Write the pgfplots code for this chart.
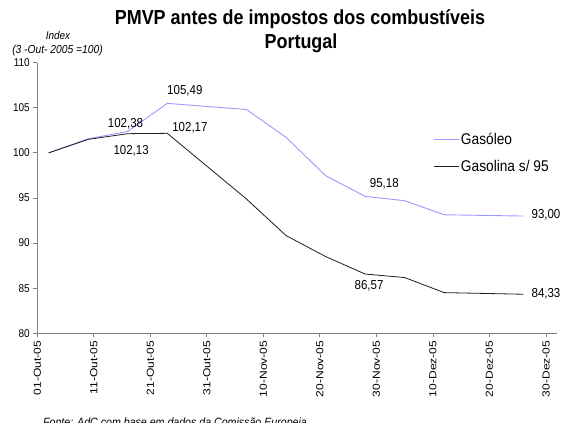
\documentclass[border=0pt]{standalone}
\usepackage{pgfplots}
\pgfplotsset{compat=1.18}
\usepackage{fontspec}
\setmainfont{Liberation Sans}[FakeStretch=0.885]
\newfontfamily\xlfont{Liberation Sans}[FakeStretch=1.18]
\definecolor{axgray}{RGB}{128,128,128}
\definecolor{gasoleo}{RGB}{153,153,255}
\definecolor{gasolina}{RGB}{30,30,30}
\begin{document}
\begin{tikzpicture}
\path[use as bounding box] (0,0) rectangle (563bp,423bp);
\clip (0,0) rectangle (563bp,423bp);
\begin{axis}[
  at={(37.3bp,89.7bp)}, anchor=south west,
  scale only axis, width=520bp, height=270.6bp,
  xmin=0, xmax=92, ymin=80, ymax=110,
  axis x line=bottom, axis y line=left,
  axis line style={-, draw=axgray, line width=1.4bp},
  tick style={draw=axgray, line width=0.9bp},
  major tick length=4bp, tick align=outside,
  xtick={0,10,20,30,40,50,60,70,80,90},
  xticklabels={01-Out-05,11-Out-05,21-Out-05,31-Out-05,10-Nov-05,20-Nov-05,30-Nov-05,10-Dez-05,20-Dez-05,30-Dez-05},
  xticklabel style={rotate=90, anchor=east, font=\xlfont\fontsize{10.2bp}{11bp}\selectfont},
  ytick={80,85,90,95,100,105,110},
  yticklabel style={font=\fontsize{11.3bp}{12bp}\selectfont},
  /pgf/number format/assume math mode=true,
  clip=false,
  legend style={draw=none, fill=none, at={(axis description cs:0.755,0.757)}, anchor=north west,
    font=\fontsize{15.5bp}{17bp}\selectfont, row sep=10.5bp},
  legend cell align=left,
  legend image code/.code={\draw[#1] (0bp,0bp) -- (25bp,0bp);},
]
\addplot[color=gasoleo, line width=0.9bp] coordinates {
 (2,100) (9,101.56) (16,102.38) (23,105.49) (37,104.81) (44,101.73)
 (51,97.48) (58,95.18) (65,94.70) (72,93.14) (86,93.00)};
\addlegendentry{Gasóleo}
\addplot[color=gasolina, line width=0.8bp] coordinates {
 (2,100) (9,101.5) (16,102.13) (23,102.17) (37,94.89) (44,90.84)
 (51,88.51) (58,86.57) (65,86.18) (72,84.51) (86,84.33)};
\addlegendentry{Gasolina s/ 95}
\begin{scope}[every node/.style={font=\fontsize{13bp}{14bp}\selectfont}]
\node at (axis cs:26.1,106.9) {105,49};
\node at (axis cs:15.6,103.28) {102,38};
\node at (axis cs:16.6,100.24) {102,13};
\node at (axis cs:27.0,102.73) {102,17};
\node at (axis cs:61.4,96.55) {95,18};
\node at (axis cs:58.7,85.24) {86,57};
\node at (axis cs:90.0,93.14) {93,00};
\node at (axis cs:90.0,84.43) {84,33};
\end{scope}
\end{axis}
\node[anchor=base, font=\fontsize{20.3bp}{22bp}\selectfont\bfseries] at (300bp,398bp) {PMVP antes de impostos dos combustíveis};
\node[anchor=base, font=\fontsize{20.3bp}{22bp}\selectfont\bfseries] at (301bp,374.5bp) {Portugal};
\node[font=\fontsize{11.2bp}{12bp}\selectfont\itshape] at (58bp,387bp) {Index};
\node[font=\fontsize{11.6bp}{12bp}\selectfont\itshape] at (57.5bp,372bp) {(3 -Out- 2005 =100)};
\node[anchor=base west, font=\fontsize{12bp}{13bp}\selectfont\itshape, inner sep=0pt] at (43bp,-3bp) {Fonte: AdC com base em dados da Comissão Europeia};
\end{tikzpicture}
\end{document}
